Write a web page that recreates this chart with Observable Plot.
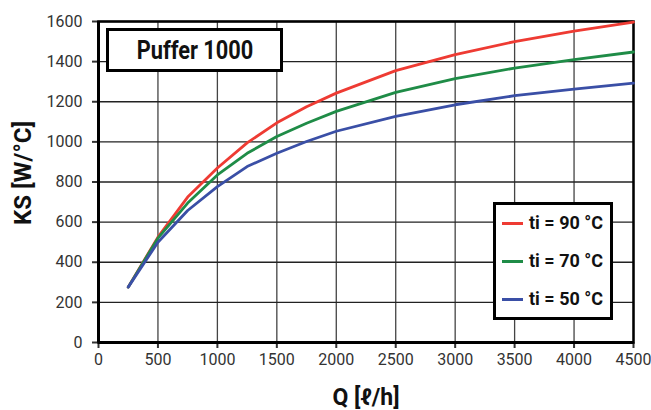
<!DOCTYPE html>
<html><head><meta charset="utf-8">
<script src="https://cdn.jsdelivr.net/npm/d3@7"></script>
<script src="https://cdn.jsdelivr.net/npm/@observablehq/plot@0.6"></script>
<style>
body{margin:0;background:#fff}
#wrap{position:relative;width:651px;height:410px;overflow:hidden}
.box{position:absolute;border:3px solid #000;background:#fff;box-sizing:border-box;font-family:Roboto,"Liberation Sans",sans-serif;font-weight:bold;color:#111}
#title{left:106px;top:28px;width:177px;height:44px;font-size:25px;display:flex;align-items:center;justify-content:center}
#title span{display:inline-block;transform:scaleX(0.87)}
#legend{left:493px;top:202px;width:120px;height:118px}
.row{position:absolute;left:0;height:20px;font-size:18px;line-height:20px}
.row .sw{position:absolute;left:6px;top:9px;width:21px;height:3px}
.row .lb{position:absolute;left:33px;top:0;white-space:nowrap}
</style></head>
<body><div id="wrap"></div>
<script>
const Q = [250, 500, 750, 1000, 1250, 1500, 1750, 2000, 2500, 3000, 3500, 4000, 4500];
const ks90 = [276, 525, 725, 870, 995, 1095, 1175, 1243, 1355, 1435, 1500, 1552, 1597];
const ks70 = [276, 520, 695, 835, 943, 1027, 1093, 1152, 1247, 1315, 1368, 1410, 1448];
const ks50 = [276, 500, 658, 777, 877, 943, 1002, 1053, 1127, 1185, 1230, 1263, 1293];
const seriesNames = ["ti = 90 °C", "ti = 70 °C", "ti = 50 °C"];
const seriesColors = ["#ee3b33", "#1f8c47", "#3a4fa6"];
const xTicks = [0, 500, 1000, 1500, 2000, 2500, 3000, 3500, 4000, 4500];
const yTicks = [0, 200, 400, 600, 800, 1000, 1200, 1400, 1600];
const titleText = "Puffer 1000";
const xLabel = "Q [ℓ/h]";
const yLabel = "KS [W/°C]";

const values = [ks90, ks70, ks50];
const data = [];
seriesNames.forEach((s, i) => Q.forEach((q, j) => data.push({series: s, Q: q, KS: values[i][j]})));

const font = 'Roboto,"Liberation Sans",sans-serif';
const chart = Plot.plot({
  width: 651, height: 410,
  marginLeft: 98, marginRight: 18, marginTop: 21, marginBottom: 68,
  style: {fontFamily: font, fontSize: "16px", color: "#333", background: "#fff"},
  x: {domain: [0, 4500]},
  y: {domain: [0, 1600]},
  color: {domain: seriesNames, range: seriesColors},
  marks: [
    Plot.gridX(xTicks, {stroke: "#444", strokeOpacity: 1, strokeWidth: 1.3}),
    Plot.gridY(yTicks, {stroke: "#222", strokeOpacity: 1, strokeWidth: 1.3}),
    Plot.axisX(xTicks, {tickSize: 6, tickPadding: 5, strokeWidth: 2, label: null, fill: "#333", tickFormat: d => String(d)}),
    Plot.axisY(yTicks, {tickSize: 6, tickPadding: 10, strokeWidth: 2, label: null, fill: "#333", tickFormat: d => String(d)}),
    Plot.frame({stroke: "#000", strokeWidth: 2.5}),
    Plot.ruleX([0], {stroke: "#000", strokeWidth: 3}),
    Plot.ruleY([0], {stroke: "#000", strokeWidth: 3}),
    Plot.line(data, {x: "Q", y: "KS", z: "series", stroke: "series", strokeWidth: 2.8}),
    Plot.text([yLabel], {frameAnchor: "left", textAnchor: "middle", lineAnchor: "middle", dx: -75, dy: -9, rotate: -90, fontWeight: "bold", fontSize: 24, fill: "#111"}),
    Plot.text([xLabel], {frameAnchor: "bottom", textAnchor: "middle", lineAnchor: "middle", dy: 55, fontWeight: "bold", fontSize: 23, fill: "#111"})
  ]
});
const wrap = document.getElementById("wrap");
wrap.appendChild(chart);

const t = document.createElement("div");
t.className = "box"; t.id = "title";
const ts = document.createElement("span"); ts.textContent = titleText; t.appendChild(ts);
wrap.appendChild(t);

const lg = document.createElement("div");
lg.className = "box"; lg.id = "legend";
seriesNames.forEach((s, i) => {
  const r = document.createElement("div");
  r.className = "row";
  r.style.top = (8 + i * 38) + "px";
  const sw = document.createElement("div");
  sw.className = "sw"; sw.style.background = seriesColors[i];
  const lb = document.createElement("div");
  lb.className = "lb"; lb.textContent = s;
  r.appendChild(sw); r.appendChild(lb);
  lg.appendChild(r);
});
wrap.appendChild(lg);
</script></body></html>
